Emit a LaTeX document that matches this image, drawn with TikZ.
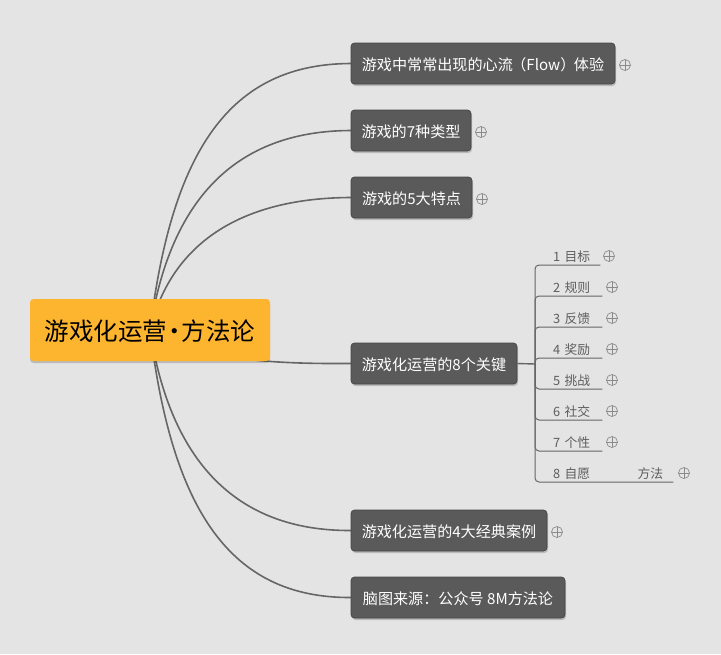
\documentclass[tikz,border=0pt]{standalone}
\usepackage{fontspec}
\setmainfont{Noto Sans CJK SC}
\usetikzlibrary{backgrounds,shadows}
\definecolor{bgc}{HTML}{E4E4E4}
\definecolor{rootc}{HTML}{FDB52F}
\definecolor{boxc}{HTML}{5A5A5A}
\definecolor{boxb}{HTML}{464646}
\definecolor{linec}{HTML}{666666}
\definecolor{leaftext}{HTML}{5E5E5E}
\definecolor{plusc}{HTML}{8A8A8A}
\newcommand\lowertext[1]{\raisebox{-1.2pt}[\height][\depth]{#1}}
\tikzset{
  x=1pt,y=-1pt,
  rootbox/.style={fill=rootc,rounded corners=3.5pt,minimum width=240pt,minimum height=62pt,inner sep=0pt,
    font=\fontsize{24.5}{28}\selectfont,text=black,
    drop shadow={shadow xshift=0pt,shadow yshift=-2pt,opacity=.18,fill=black}},
  topic/.style={fill=boxc,draw=boxb,line width=.7pt,rounded corners=3.5pt,minimum height=41pt,inner sep=0pt,
    font=\fontsize{15.1}{18}\selectfont,text=white,
    drop shadow={shadow xshift=1pt,shadow yshift=-2pt,opacity=.18,fill=black}},
  leaf/.style={anchor=south west,inner sep=0pt,minimum height=18pt,align=left,
    font=\fontsize{12.8}{15}\selectfont,text=leaftext},
  conn/.style={draw=linec,line width=1.6pt,line cap=round},
  twig/.style={draw=linec,line width=1pt,rounded corners=4pt},
  plus/.style={circle,draw=plusc,line width=.7pt,minimum size=11pt,inner sep=0pt,
    path picture={\draw[plusc,line width=.7pt]
      (path picture bounding box.north) -- (path picture bounding box.south)
      (path picture bounding box.west) -- (path picture bounding box.east);}},
}
\begin{document}
\begin{tikzpicture}
\useasboundingbox (0,0) rectangle (721,654);
\node[rootbox] (root) at (150,330) {\lowertext{游戏化运营\kern-5pt·\kern-5pt方法论}};
\node[topic,minimum width=264pt] (t1) at (483,63.5) {\lowertext{游戏中常常出现的心流\kern-1.5pt（Flow）\kern-1.5pt体验}};
\node[topic,minimum width=120pt] (t2) at (411,130.5) {\lowertext{游戏的7种类型}};
\node[topic,minimum width=121pt] (t3) at (411.5,197.5) {\lowertext{游戏的5大特点}};
\node[topic,minimum width=166pt] (t4) at (434,363.5) {\lowertext{游戏化运营的8个关键}};
\node[topic,minimum width=196pt] (t5) at (449,530.5) {\lowertext{游戏化运营的4大经典案例}};
\node[topic,minimum width=214pt] (t6) at (458,597.5) {\lowertext{脑图来源：公众号 8M方法论}};
\node[plus] (p1) at (625,65) {};
\node[plus] (p2) at (481,132) {};
\node[plus] (p3) at (482,199) {};
\node[plus] (p5) at (557,532) {};
\coordinate (branch) at (535,364);
\node[leaf,text width=47pt] (l1) at (553,265) {\lowertext{1 目标}};
\node[leaf,text width=49pt] (l2) at (553,296) {\lowertext{2 规则}};
\node[leaf,text width=49pt] (l3) at (553,327) {\lowertext{3 反馈}};
\node[leaf,text width=49pt] (l4) at (553,358) {\lowertext{4 奖励}};
\node[leaf,text width=49pt] (l5) at (553,389) {\lowertext{5 挑战}};
\node[leaf,text width=49pt] (l6) at (553,420) {\lowertext{6 社交}};
\node[leaf,text width=49pt] (l7) at (553,451) {\lowertext{7 个性}};
\node[leaf,text width=120pt] (l8) at (553,482) {\lowertext{8 自愿\hspace*{47.5pt}方法}};
\node[plus] (q1) at (609,256) {};
\node[plus] (q2) at (612,287) {};
\node[plus] (q3) at (612,318) {};
\node[plus] (q4) at (612,349) {};
\node[plus] (q5) at (612,380) {};
\node[plus] (q6) at (612,411) {};
\node[plus] (q7) at (612,442) {};
\node[plus] (q8) at (684,473) {};
\begin{pgfonlayer}{background}
\fill[bgc] (0,0) rectangle (721,654);
\path[conn] (root.center) .. controls (172,150) and (230,64) .. (t1.west);
\path[conn] (root.center) .. controls (170,200) and (235,131) .. (t2.west);
\path[conn] (root.center) .. controls (172,240) and (245,198) .. (t3.west);
\path[conn] (root.center) .. controls (200,360) and (270,364) .. (t4.west);
\path[conn] (root.center) .. controls (170,460) and (235,531) .. (t5.west);
\path[conn] (root.center) .. controls (172,510) and (230,598) .. (t6.west);
\end{pgfonlayer}
\path[draw=linec,line width=1.4pt] (t4.east) -- (branch);
\foreach \n in {l1,l2,l3,l4,l5,l6,l7,l8}{
  \path[twig] (branch) |- (\n.south east);
}
\end{tikzpicture}
\end{document}
